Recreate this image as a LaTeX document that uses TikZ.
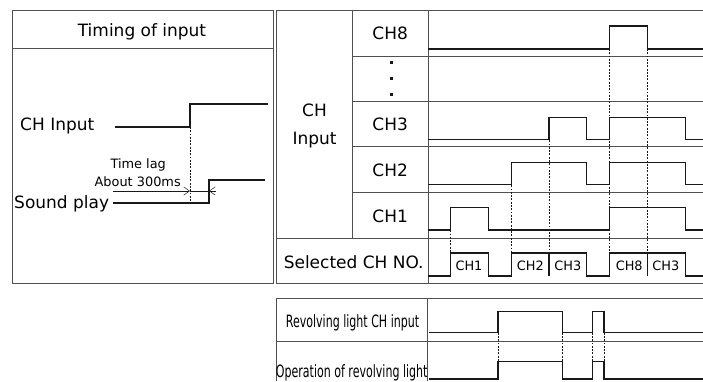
\documentclass[tikz,border=0pt]{standalone}
\usepackage{fontspec}
\setmainfont{DejaVu Sans}
\newfontfamily\narrowfont[FakeStretch=0.65]{DejaVu Sans}
\usepackage{xcolor}
\definecolor{sigblack}{RGB}{25,25,25}
\definecolor{rulegray}{RGB}{80,80,80}
\usepackage{tikz}
\usetikzlibrary{arrows.meta}

\begin{document}
\begin{tikzpicture}[x=0.03cm, y=-0.03cm,
  rule/.style={rulegray, line width=0.8pt},
  sig/.style={sigblack, line width=0.9pt},
  guide/.style={sigblack, line width=0.6pt, dash pattern=on 1.6pt off 1.2pt},
  lbl/.style={font=\fontsize{14.5}{16}\selectfont, anchor=base, inner sep=0pt},
  smalllbl/.style={font=\fontsize{11}{13}\selectfont, anchor=base, inner sep=0pt},
  narrowlbl/.style={font=\narrowfont\fontsize{14.5}{16}\selectfont, anchor=base, inner sep=0pt},
  lagtip/.style={-{Straight Barb[length=5pt, width=7pt]}}]
  \useasboundingbox (0,0) rectangle (703,381);

  % Left panel: timing of input
  \draw[rule] (12,10) rectangle (273,283.3);
  \draw[rule] (12,48.7) -- (273,48.7);
  \node[lbl] (timinghead) at (142,36) {Timing of input};
  \node[lbl, anchor=base west] (chinlbl) at (20,130.7) {CH Input};
  \node[lbl, anchor=base west] (soundlbl) at (14,208.7) {Sound play};

  \draw[sig] (115,127) -- (190,127) -- (190,104) -- (268,104);
  \draw[sig] (113,203) -- (209,203) -- (209,180) -- (265,180);
  \draw[guide] (190,127) -- (190,203);

  % Time lag
  \coordinate (lagstart) at (190,191);
  \coordinate (lagend) at (209,191);
  \draw[sig, thin, lagtip] (113,191) -- (lagstart);
  \draw[sig, thin, lagtip] (216,191) -- (lagend);
  \draw[sig, thin] (lagstart) -- (lagend);
  \node[smalllbl] (laglbl) at (138.2,168) {Time lag};
  \node[smalllbl] (aboutlbl) at (137.7,186) {About 300ms};

  % Right table: grid
  \draw[rule] (276,10) -- (703,10);
  \draw[rule] (276,283.3) -- (703,283.3);
  \draw[rule] (276,10) -- (276,283.3);
  \draw[rule] (352.5,10) -- (352.5,238);
  \draw[rule] (428,10) -- (428,283.3);
  \foreach \y in {56.3,101.3,146.7,192.7}
    \draw[rule] (352.5,\y) -- (703,\y);
  \draw[rule] (276,238) -- (703,238);

  % Right table: labels
  \node[lbl] (chgrouptop) at (314.5,116.7) {CH};
  \node[lbl] (chgroupbot) at (314.5,144) {Input};
  \foreach \name/\y in {CH8/39.3, CH3/130.7, CH2/176.7, CH1/222.7}
    \node[lbl] (lbl\name) at (390.2,\y) {\name};
  \foreach \y in {62.7,78.7,94.3}
    \fill[sigblack] (390.4,\y-1.3) rectangle (393,\y+1.3);
  \node[lbl] (selectlbl) at (353.7,268.3) {Selected CH NO.};

  % Channel waveforms
  \draw[sig] (428,49) -- (609.3,49) -- (609.3,26) -- (647.3,26) -- (647.3,49) -- (703,49);
  \draw[sig] (428,139.3) -- (549,139.3) -- (549,117.3) -- (586.7,117.3) -- (586.7,139.3)
    -- (609.3,139.3) -- (609.3,117.3) -- (685.3,117.3) -- (685.3,139.3) -- (703,139.3);
  \draw[sig] (428,184.3) -- (511.3,184.3) -- (511.3,162.3) -- (586.7,162.3) -- (586.7,184.3)
    -- (609.3,184.3) -- (609.3,162.3) -- (685.3,162.3) -- (685.3,184.3) -- (703,184.3);
  \draw[sig] (428,230) -- (450.7,230) -- (450.7,207.3) -- (488.7,207.3) -- (488.7,230)
    -- (609.3,230) -- (609.3,207.3) -- (685.3,207.3) -- (685.3,230) -- (703,230);

  % Selected channel
  \draw[sig] (428,276) -- (450.7,276) -- (450.7,253) -- (488.7,253) -- (488.7,276)
    -- (511.3,276) -- (511.3,253) -- (586.7,253) -- (586.7,276) -- (609.3,276)
    -- (609.3,253) -- (685.3,253) -- (685.3,276) -- (703,276);
  \draw[sig] (549,253) -- (549,276);
  \draw[sig] (647.3,253) -- (647.3,276);
  \foreach \x/\name in {469/CH1, 530.3/CH2, 567.8/CH3, 629.2/CH8, 665.8/CH3}
    \node[smalllbl] (sel\name\x) at (\x,270) {\name};

  % Guide lines
  \foreach \x/\y in {450.7/207.3, 511.3/162.3, 549/117.3, 609.3/26, 647.3/26}
    \draw[guide] (\x,\y) -- (\x,253);

  % Revolving light table
  \draw[rule] (276,298) -- (703,298);
  \draw[rule] (276,341.7) -- (703,341.7);
  \draw[rule] (276,298) -- (276,381);
  \draw[rule] (427.3,298) -- (427.3,381);
  \node[narrowlbl] (revinlbl) at (352.5,327.3) {Revolving light CH input};
  \node[narrowlbl] (revoplbl) at (351.7,377) {Operation of revolving light};

  \draw[sig] (429,332.7) -- (498,332.7) -- (498,311.7) -- (562.7,311.7) -- (562.7,332.7)
    -- (592.7,332.7) -- (592.7,311.7) -- (604,311.7) -- (604,332.7) -- (703,332.7);
  \draw[sig] (429,379) -- (498,379) -- (498,361.7) -- (562.7,361.7) -- (562.7,379)
    -- (592.7,379) -- (592.7,361.7) -- (604,361.7) -- (604,379) -- (703,379);
  \foreach \x in {498,562.7,592.7,604}
    \draw[guide] (\x,332.7) -- (\x,361.7);
\end{tikzpicture}
\end{document}
